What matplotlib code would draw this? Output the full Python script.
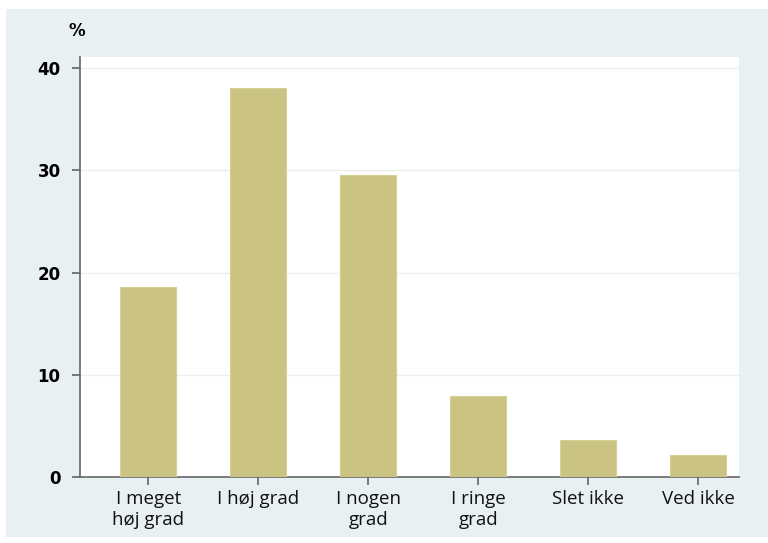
import matplotlib
matplotlib.use("Agg")
import matplotlib.pyplot as plt
from matplotlib.patches import Rectangle

categories = ["I meget\nhøj grad", "I høj grad", "I nogen\ngrad", "I ringe\ngrad", "Slet ikke", "Ved ikke"]
values = [18.6, 38.1, 29.6, 7.9, 3.6, 2.2]
yticks = [0, 10, 20, 30, 40]

fig = plt.figure(figsize=(7.68, 5.43), dpi=100)
fig.patch.set_facecolor("white")
fig.patches.append(Rectangle((6/768, 1-537/543), 1-6/768, (537-9)/543,
                             transform=fig.transFigure, facecolor="#E9F0F2",
                             edgecolor="none", zorder=-10))

ax = fig.add_axes([80/768, 1-477/543, (739-80)/768, (477-57)/543])
ax.set_zorder(5)
ax.set_facecolor("white")
x = list(range(len(categories)))
ax.bar(x, values, width=0.51, color="#CBC382", edgecolor="#D6CF98", linewidth=0.8, zorder=3)
ax.set_xlim(-0.62, 5.37)
ax.set_ylim(0, 41.1)
ax.set_yticks(yticks)
ax.set_yticklabels([str(t) for t in yticks], fontsize=12, fontweight="bold", family="DejaVu Sans")
ax.set_xticks(x)
ax.set_xticklabels(categories, fontsize=13.5, family="Open Sans", color="#111111", linespacing=1.25)
for t in yticks[1:]:
    ax.axhline(t, color="#EEEEEE", lw=1, zorder=1)
for s in ["top", "right"]:
    ax.spines[s].set_visible(False)
for s in ["left", "bottom"]:
    ax.spines[s].set_color("#666666")
    ax.spines[s].set_linewidth(1.2)
ax.tick_params(axis="both", length=6, width=1.2, color="#666666", direction="out")
ax.tick_params(axis="y", pad=8)
ax.tick_params(axis="x", pad=3)
fig.text(77/768, 1-31/543, "%", fontsize=12, fontweight="bold", ha="center", va="center")
fig.savefig("out.png", dpi=100)
